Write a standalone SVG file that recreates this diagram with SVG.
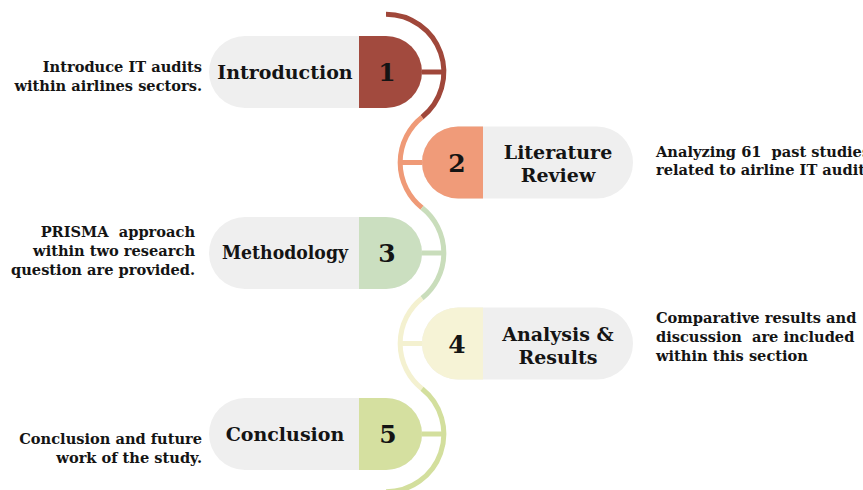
<svg xmlns="http://www.w3.org/2000/svg" width="863" height="490" viewBox="0 0 863 490">
  <style>
    .pill { fill: #efefef; }
    .title { font-family: "DejaVu Serif", "Liberation Serif", serif; font-weight: bold; font-size: 19px; fill: #141414; text-anchor: middle; }
    .num { font-family: "DejaVu Serif", "Liberation Serif", serif; font-weight: bold; font-size: 25px; fill: #141414; text-anchor: middle; }
    .note { font-family: "DejaVu Serif", "Liberation Serif", serif; font-weight: bold; font-size: 14.6px; fill: #141414; white-space: pre; }
    .note.l { text-anchor: end; }
    .note.r { text-anchor: start; }
    .arc { fill: none; stroke-width: 5; }
    .c1 { fill: #a24a3e; } .s1 { stroke: #a0473a; }
    .c2 { fill: #f09b79; } .s2 { stroke: #ef9a77; }
    .c3 { fill: #cbdfc0; } .s3 { stroke: #c9ddbb; }
    .c4 { fill: #f6f3d6; } .s4 { stroke: #f4f1d0; }
    .c5 { fill: #d5e0a0; } .s5 { stroke: #d3df9d; }
  </style>

  <!-- winding spine with a short bar to each step -->
  <g id="connectors">
    <path class="arc s1" d="M386,14.2 A57.8,57.8 0 0 1 422,117.25"/>
    <path class="arc s2" d="M422,117.25 A57.8,57.8 0 0 0 422,207.75"/>
    <path class="arc s3" d="M422,207.75 A57.8,57.8 0 0 1 422,298.25"/>
    <path class="arc s4" d="M422,298.25 A57.8,57.8 0 0 0 422,388.75"/>
    <path class="arc s5" d="M422,388.75 A57.8,57.8 0 0 1 386,491.8"/>
    <line class="arc s1" x1="420" y1="72" x2="443" y2="72" stroke-width="4.5"/>
    <line class="arc s2" x1="401" y1="162.5" x2="424" y2="162.5" stroke-width="4.5"/>
    <line class="arc s3" x1="420" y1="253" x2="443" y2="253" stroke-width="4.5"/>
    <line class="arc s4" x1="401" y1="343.5" x2="424" y2="343.5" stroke-width="4.5"/>
    <line class="arc s5" x1="420" y1="434" x2="443" y2="434" stroke-width="4.5"/>
  </g>

  <g id="node1">
    <rect class="pill" x="209" y="36" width="213" height="72" rx="36"/>
    <path class="c1" d="M359,36 H386 A36,36 0 0 1 386,108 H359 Z"/>
    <text class="title" x="285" y="79">Introduction</text>
    <text class="num" x="387" y="81">1</text>
    <text class="note l" x="202"><tspan x="202" y="72">Introduce IT audits</tspan><tspan x="202" y="91">within airlines sectors.</tspan></text>
  </g>

  <g id="node2">
    <rect class="pill" x="422" y="126.5" width="211" height="72" rx="36"/>
    <path class="c2" d="M483,126.5 H458 A36,36 0 0 0 458,198.5 H483 Z"/>
    <text class="title" x="558"><tspan x="558" y="159">Literature</tspan><tspan x="558" y="182">Review</tspan></text>
    <text class="num" x="457" y="171.5">2</text>
    <text class="note r" x="656"><tspan x="656" y="157">Analyzing 61  past studies</tspan><tspan x="656" y="175">related to airline IT audits</tspan></text>
  </g>

  <g id="node3">
    <rect class="pill" x="209" y="217" width="213" height="72" rx="36"/>
    <path class="c3" d="M359,217 H386 A36,36 0 0 1 386,289 H359 Z"/>
    <text class="title" x="285" y="259" textLength="126" lengthAdjust="spacingAndGlyphs">Methodology</text>
    <text class="num" x="387" y="262">3</text>
    <text class="note l" x="195"><tspan x="195" y="237">PRISMA  approach</tspan><tspan x="195" y="256">within two research</tspan><tspan x="195" y="275">question are provided.</tspan></text>
  </g>

  <g id="node4">
    <rect class="pill" x="422" y="307.5" width="211" height="72" rx="36"/>
    <path class="c4" d="M483,307.5 H458 A36,36 0 0 0 458,379.5 H483 Z"/>
    <text class="title" x="558"><tspan x="558" y="341">Analysis &amp;</tspan><tspan x="558" y="364">Results</tspan></text>
    <text class="num" x="457" y="352.5">4</text>
    <text class="note r" x="656"><tspan x="656" y="323">Comparative results and</tspan><tspan x="656" y="342">discussion  are included</tspan><tspan x="656" y="361">within this section</tspan></text>
  </g>

  <g id="node5">
    <rect class="pill" x="209" y="398" width="213" height="72" rx="36"/>
    <path class="c5" d="M359,398 H386 A36,36 0 0 1 386,470 H359 Z"/>
    <text class="title" x="285" y="441">Conclusion</text>
    <text class="num" x="388" y="443">5</text>
    <text class="note l" x="202"><tspan x="202" y="444">Conclusion and future</tspan><tspan x="202" y="463">work of the study.</tspan></text>
  </g>
</svg>
